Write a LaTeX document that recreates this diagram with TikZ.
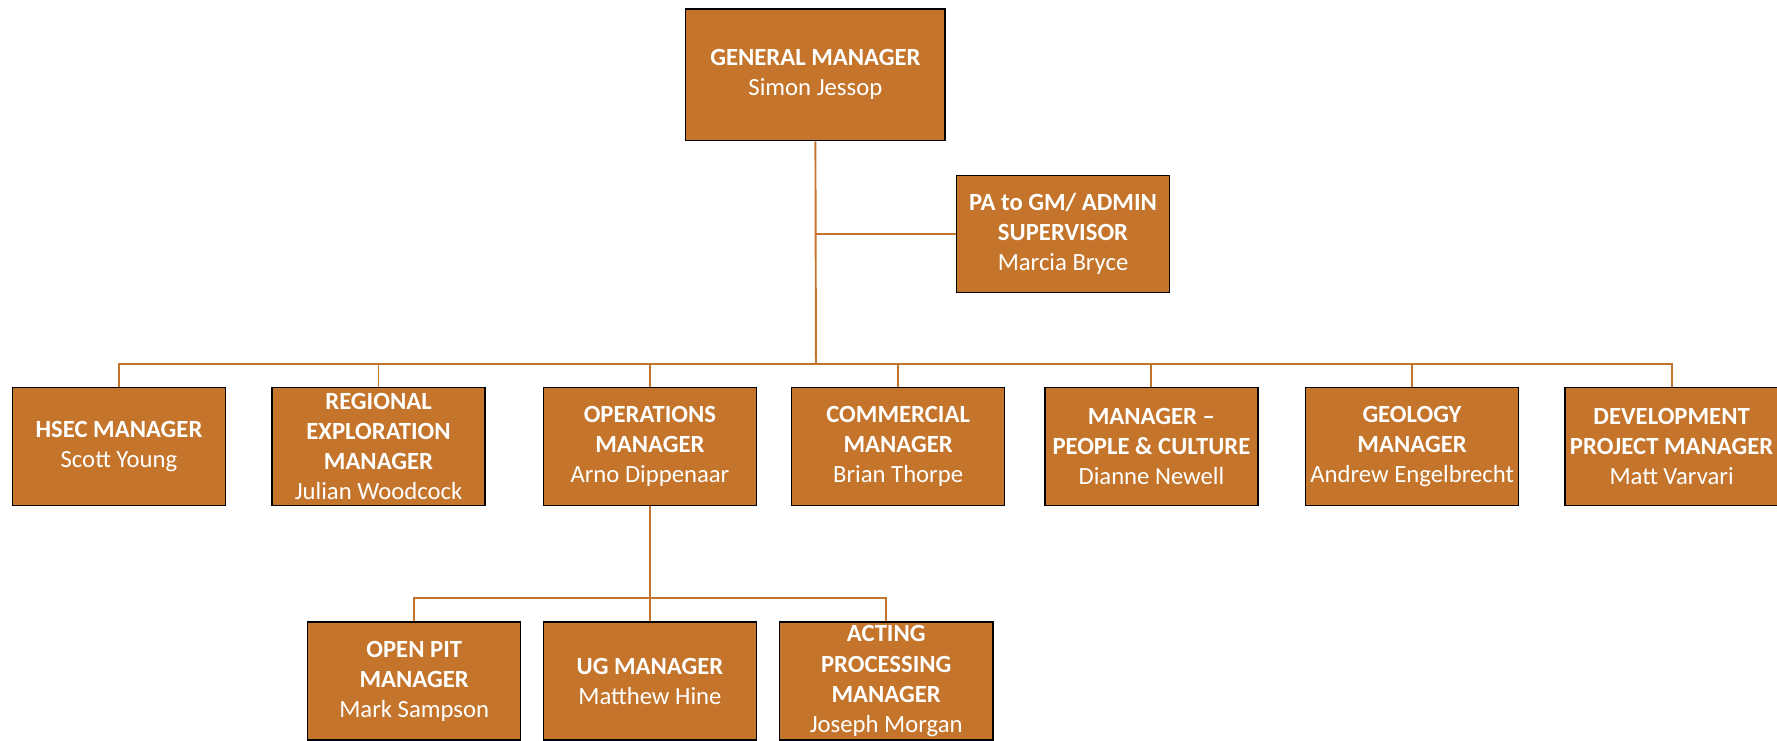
\documentclass[tikz,border=0pt]{standalone}
\usepackage{fontspec}
\setmainfont{Carlito}
\definecolor{boxfill}{HTML}{C4752B}
\definecolor{linec}{HTML}{C4752B}
\begin{document}
\begin{tikzpicture}[x=1pt,y=-1pt,
  box/.style={draw=black,line width=1.3pt,fill=boxfill,text=white,align=center,
    minimum width=188pt,minimum height=104pt,inner sep=0pt,font=\fontsize{21.8}{26.6}\selectfont},
  conn/.style={draw=linec,line width=1.7pt}]
\useasboundingbox (0,0) rectangle (1568,653);
\node[box,minimum width=229pt,minimum height=116pt] (gm) at (719.5,66) {\textbf{GENERAL MANAGER}\\Simon Jessop};
\node[box,minimum height=103pt] (pa) at (938,206.5) {\textbf{PA to GM/ ADMIN}\\\textbf{SUPERVISOR}\\Marcia Bryce};
\coordinate (bus) at (720,321);
\node[box] (hsec) at (105,394) {\textbf{HSEC MANAGER}\\Scott Young};
\node[box] (reg) at (334,394) {\textbf{REGIONAL}\\\textbf{EXPLORATION}\\\textbf{MANAGER}\\Julian Woodcock};
\node[box] (ops) at (573.5,394) {\textbf{OPERATIONS}\\\textbf{MANAGER}\\Arno Dippenaar};
\node[box] (com) at (792.5,394) {\textbf{COMMERCIAL}\\\textbf{MANAGER}\\Brian Thorpe};
\node[box] (ppl) at (1016,394) {\textbf{MANAGER –}\\\textbf{PEOPLE \& CULTURE}\\Dianne Newell};
\node[box] (geo) at (1246,394) {\textbf{GEOLOGY}\\\textbf{MANAGER}\\Andrew Engelbrecht};
\node[box] (dev) at (1475,394) {\textbf{DEVELOPMENT}\\\textbf{PROJECT MANAGER}\\Matt Varvari};
\coordinate (bus2) at (573.5,528);
\node[box] (pit) at (365.5,601) {\textbf{OPEN PIT}\\\textbf{MANAGER}\\Mark Sampson};
\node[box] (ug) at (573.5,601) {\textbf{UG MANAGER}\\Matthew Hine};
\node[box] (proc) at (782,601) {\textbf{ACTING}\\\textbf{PROCESSING}\\\textbf{MANAGER}\\Joseph Morgan};
% connectors
\draw[conn] (gm.south) -- (bus);
\draw[conn] (gm.south |- pa.west) -- (pa.west);
\draw[conn] (hsec.north) |- (dev.north |- bus) -- (dev.north);
\foreach \n in {reg,ops,com,ppl,geo} \draw[conn] (\n.north) -- (\n.north |- bus);
\draw[conn] (ops.south) -- (bus2);
\draw[conn] (pit.north) |- (proc.north |- bus2) -- (proc.north);
\draw[conn] (ug.north) -- (ug.north |- bus2);
\end{tikzpicture}
\end{document}
